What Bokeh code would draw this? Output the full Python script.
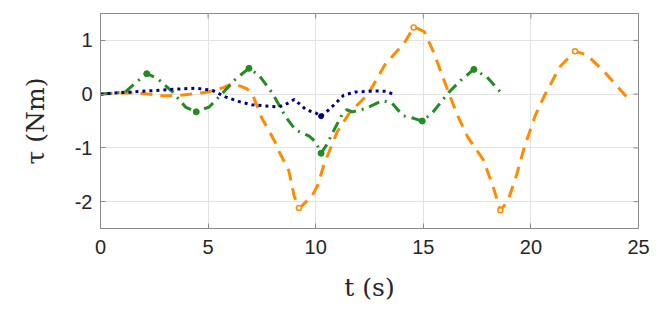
import math
from bokeh.plotting import figure
from bokeh.models import FixedTicker
from bokeh.embed import file_html
from bokeh.resources import INLINE

# ---- data ----
orange_t = [0, 1.6, 2.9, 3.5, 4.4, 5.0, 5.7, 6.15, 6.5, 6.8, 7.05, 7.5, 8.1, 8.3, 8.75, 9.0,
            9.22, 9.38, 9.85, 10.1, 10.4, 11.0, 11.55, 12.45, 13.25, 14.1, 14.55, 14.75, 15.05,
            15.5, 15.95, 16.55, 17.05, 17.8, 18.25, 18.58, 18.75, 18.97, 19.35, 19.7, 20.2,
            20.6, 21.35, 22.05, 22.6, 23.4, 24.45, 24.75]
orange_y = [0, 0.03, -0.03, -0.03, 0.01, 0.04, 0.12, 0.2, 0.15, 0.1, 0.01, -0.45, -0.88, -1.07,
            -1.42, -1.9, -2.12, -2.07, -1.88, -1.69, -1.29, -0.7, -0.36, 0.01, 0.57, 0.94, 1.24,
            1.22, 1.16, 0.76, 0.27, -0.36, -0.79, -1.23, -1.73, -2.16, -2.08, -1.94, -1.48,
            -0.98, -0.4, -0.05, 0.51, 0.8, 0.73, 0.42, -0.05, -0.12]
orange_marks = [16, 26, 35, 43]

green_t = [0, 1.15, 1.6, 2.15, 2.65, 3.35, 3.95, 4.45, 5.05, 5.65, 6.3, 6.9, 7.37, 8.0, 8.6,
           9.07, 9.7, 10.0, 10.25, 10.5, 10.85, 11.25, 11.45, 11.7, 12.3, 13.1, 13.55, 14.05,
           14.55, 14.95, 15.4, 16.2, 16.75, 17.35, 17.95, 18.65]
green_y = [0, 0.04, 0.2, 0.38, 0.29, 0.04, -0.24, -0.33, -0.24, 0.01, 0.29, 0.48, 0.35, 0.01,
           -0.42, -0.67, -0.78, -0.89, -1.1, -0.95, -0.67, -0.36, -0.29, -0.33, -0.27, -0.12,
           -0.17, -0.4, -0.45, -0.5, -0.36, 0.04, 0.26, 0.46, 0.32, 0.01]
green_marks = [3, 7, 11, 18, 29, 33]

navy_t = [0, 1.0, 2.25, 3.35, 4.45, 5.2, 5.8, 6.45, 7.05, 7.7, 8.3, 8.7, 9.0, 9.3, 9.55, 10.0,
          10.25, 10.5, 10.8, 11.3, 11.85, 12.9, 13.3, 13.65]
navy_y = [0, 0.03, 0.06, 0.09, 0.11, 0.07, -0.05, -0.14, -0.2, -0.22, -0.24, -0.17, -0.1, -0.2,
          -0.29, -0.35, -0.41, -0.33, -0.22, -0.02, 0.04, 0.06, 0.05, -0.01]
navy_marks = [16]

x_ticks = [0, 5, 10, 15, 20, 25]
y_ticks = [-2, -1, 0, 1]
y_tick_labels = ["-2", "-1", "0", "1"]
x_lim = (0, 25)
y_lim = (-2.5, 1.5)

ORANGE = "#FF8C00"
GREEN = "#228B22"
NAVY = "#000080"
AXC = "#8a8a8a"
TXT = "#262626"

p = figure(frame_width=538, frame_height=215, x_range=x_lim, y_range=y_lim,
           output_backend="svg", toolbar_location=None,
           min_border_left=100, min_border_top=13, min_border_right=20, min_border_bottom=95)
p.background_fill_color = "white"
p.border_fill_color = "white"
p.outline_line_color = AXC
p.outline_line_width = 1

for ax in (p.xaxis[0], p.yaxis[0]):
    ax.major_tick_in = 5
    ax.major_tick_out = 0
    ax.minor_tick_line_color = None
    ax.axis_line_color = AXC
    ax.major_tick_line_color = AXC
    ax.major_label_text_font = "Liberation Sans"
    ax.major_label_text_font_size = "20px"
    ax.major_label_text_color = TXT
    ax.axis_label_text_font = "DejaVu Serif"
    ax.axis_label_text_font_size = "25px"
    ax.axis_label_text_font_style = "normal"
    ax.axis_label_text_color = TXT

p.xaxis[0].ticker = FixedTicker(ticks=x_ticks)
p.yaxis[0].ticker = FixedTicker(ticks=y_ticks)
p.yaxis[0].major_label_overrides = {t: s for t, s in zip(y_ticks, y_tick_labels)}
p.xaxis[0].major_label_standoff = 11
p.yaxis[0].major_label_standoff = 8
p.xaxis[0].axis_label = "t (s)"
p.yaxis[0].axis_label = "τ (Nm)"
p.xaxis[0].axis_label_standoff = 16
p.yaxis[0].axis_label_standoff = 22

p.xgrid.ticker = FixedTicker(ticks=x_ticks)
p.ygrid.ticker = FixedTicker(ticks=y_ticks)
p.grid.grid_line_color = "#e3e3e3"
p.grid.grid_line_width = 1

# mirrored inward ticks on the top and right edges (half of each dash is clipped by the frame)
p.scatter(x_ticks, [y_lim[1]] * len(x_ticks), marker="dash", size=10, angle=math.pi / 2,
          line_color=AXC, line_width=1)
p.scatter([x_lim[1]] * len(y_ticks), y_ticks, marker="dash", size=10,
          line_color=AXC, line_width=1)

p.line(orange_t, orange_y, line_color=ORANGE, line_width=3, line_dash="12 8")
p.line(green_t, green_y, line_color=GREEN, line_width=3, line_dash="11 6 2 6")
p.line(navy_t, navy_y, line_color=NAVY, line_width=3, line_dash="3 4")

p.scatter([orange_t[i] for i in orange_marks], [orange_y[i] for i in orange_marks],
          size=5, marker="circle", line_color=ORANGE, fill_color="white", line_width=1.5)
p.scatter([green_t[i] for i in green_marks], [green_y[i] for i in green_marks],
          size=6, marker="circle", line_color=GREEN, fill_color=GREEN)
p.scatter([navy_t[i] for i in navy_marks], [navy_y[i] for i in navy_marks],
          size=5, marker="circle", line_color=NAVY, fill_color=NAVY)

open("out.html", "w").write(file_html(p, INLINE))
